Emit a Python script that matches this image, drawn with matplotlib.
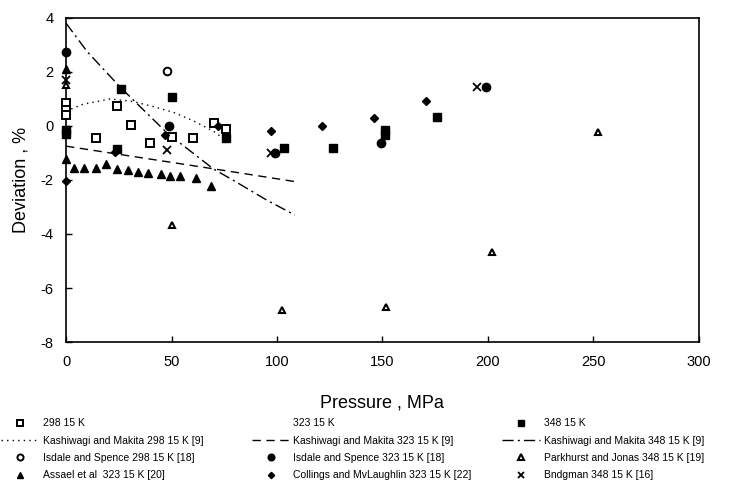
import matplotlib
matplotlib.use("Agg")
import matplotlib.pyplot as plt
from matplotlib.lines import Line2D

plt.rcParams['font.family'] = ['Liberation Sans', 'DejaVu Sans']
plt.rcParams['axes.unicode_minus'] = False

# present work (open squares 298 K, filled squares 348 K)
sq298_p = [0, 0, 0, 14, 24, 31, 40, 50, 60, 70, 76]
sq298_d = [0.85, 0.6, 0.4, -0.45, 0.74, 0.04, -0.64, -0.42, -0.45, 0.12, -0.12]
sq348_p = [0, 0, 24, 26, 50, 76, 103.5, 126.5, 151, 151, 176]
sq348_d = [-0.15, -0.3, -0.86, 1.37, 1.07, -0.45, -0.82, -0.82, -0.15, -0.33, 0.33]

# Kashiwagi and Makita correlations
k298_p = [0, 8, 21, 32, 41, 51, 60, 70, 75]
k298_d = [0.55, 0.8, 1.0, 0.9, 0.72, 0.5, 0.2, -0.2, -0.5]
k323_p = [0, 25, 50, 75, 110]
k323_d = [-0.75, -1.05, -1.35, -1.65, -2.08]
k348_p = [0, 10, 25.6, 48, 70, 79, 95, 108.5]
k348_d = [3.8, 2.75, 1.44, -0.27, -1.6, -2.0, -2.74, -3.3]

# literature data
is298_p = [48]
is298_d = [2.05]
is323_p = [0, 49, 99, 149.5, 199]
is323_d = [2.74, 0.0, -1.0, -0.63, 1.44]
park_p = [0, 50, 102.5, 151.5, 202, 252]
park_d = [1.5, -3.68, -6.8, -6.7, -4.67, -0.22]
assael_p = [0, 0, 3.8, 8.7, 14.1, 19, 24.3, 29.5, 34.3, 38.7, 45, 49.3, 54, 61.6, 68.6]
assael_d = [2.1, -1.22, -1.57, -1.57, -1.57, -1.41, -1.59, -1.65, -1.69, -1.73,
            -1.78, -1.85, -1.85, -1.94, -2.22]
coll_p = [0, 23, 47, 72, 97, 121.5, 146, 170.6]
coll_d = [-2.05, -0.95, -0.33, 0.0, -0.19, 0.0, 0.3, 0.93]
bridg_p = [0, 48, 97, 195]
bridg_d = [1.7, -0.9, -1.0, 1.45]

fig = plt.figure(figsize=(7.34, 4.95), dpi=100)
ax = fig.add_axes([0.09, 0.309, 0.862, 0.655])

k = 'black'
l_k298, = ax.plot(k298_p, k298_d, color=k, lw=1.0, ls=(0, (1, 3)))
l_k323, = ax.plot(k323_p, k323_d, color=k, lw=1.0, ls=(0, (6, 4)))
l_k348, = ax.plot(k348_p, k348_d, color=k, lw=1.0, ls=(0, (8, 3, 1.5, 3)))

mk = dict(ls='none', clip_on=False, zorder=3)
m_sq298, = ax.plot(sq298_p, sq298_d, 's', mfc='white', mec=k, mew=1.4, ms=5.5, **mk)
m_sq348, = ax.plot(sq348_p, sq348_d, 's', color=k, ms=5.5, **mk)
m_is298, = ax.plot(is298_p, is298_d, 'o', mfc='white', mec=k, mew=1.4, ms=5.5, **mk)
m_is323, = ax.plot(is323_p, is323_d, 'o', color=k, ms=6, **mk)
m_park, = ax.plot(park_p, park_d, '^', mfc='white', mec=k, mew=1.5, ms=5, **mk)
m_ass, = ax.plot(assael_p, assael_d, '^', color=k, ms=6, **mk)
m_coll, = ax.plot(coll_p, coll_d, 'D', color=k, ms=4, **mk)
m_brid, = ax.plot(bridg_p, bridg_d, 'x', color=k, mew=1.3, ms=6, **mk)

ax.set_xlim(0, 300)
ax.set_ylim(-8, 4)
ax.set_xticks([0, 50, 100, 150, 200, 250, 300])
ax.set_yticks([-8, -6, -4, -2, 0, 2, 4])
ax.tick_params(direction='in', length=4, width=1, labelsize=10.5, pad=9)
for s in ax.spines.values():
    s.set_linewidth(1.2)
ax.set_xlabel('Pressure , MPa', fontsize=13, labelpad=19)
ax.set_ylabel('Deviation , %', fontsize=13, labelpad=8)

blank = Line2D([], [], ls='none', marker='none')
cols = [
    (0.002, [m_sq298, l_k298, m_is298, m_ass],
     ['298 15 K', 'Kashiwagi and Makita 298 15 K [9]',
      'Isdale and Spence 298 15 K [18]', 'Assael et al  323 15 K [20]']),
    (0.343, [blank, l_k323, m_is323, m_coll],
     ['323 15 K', 'Kashiwagi and Makita 323 15 K [9]',
      'Isdale and Spence 323 15 K [18]', 'Collings and MvLaughlin 323 15 K [22]']),
    (0.684, [m_sq348, l_k348, m_park, m_brid],
     ['348 15 K', 'Kashiwagi and Makita 348 15 K [9]',
      'Parkhurst and Jonas 348 15 K [19]', 'Bndgman 348 15 K [16]']),
]
for x0, hs, labs in cols:
    fig.legend(hs, labs, loc='upper left', bbox_to_anchor=(x0, 0.155),
               frameon=False, fontsize=7.5, handlelength=3.6, handletextpad=0.4,
               labelspacing=0.7, borderpad=0, borderaxespad=0, markerscale=0.8)

fig.savefig('out.png', dpi=100)
